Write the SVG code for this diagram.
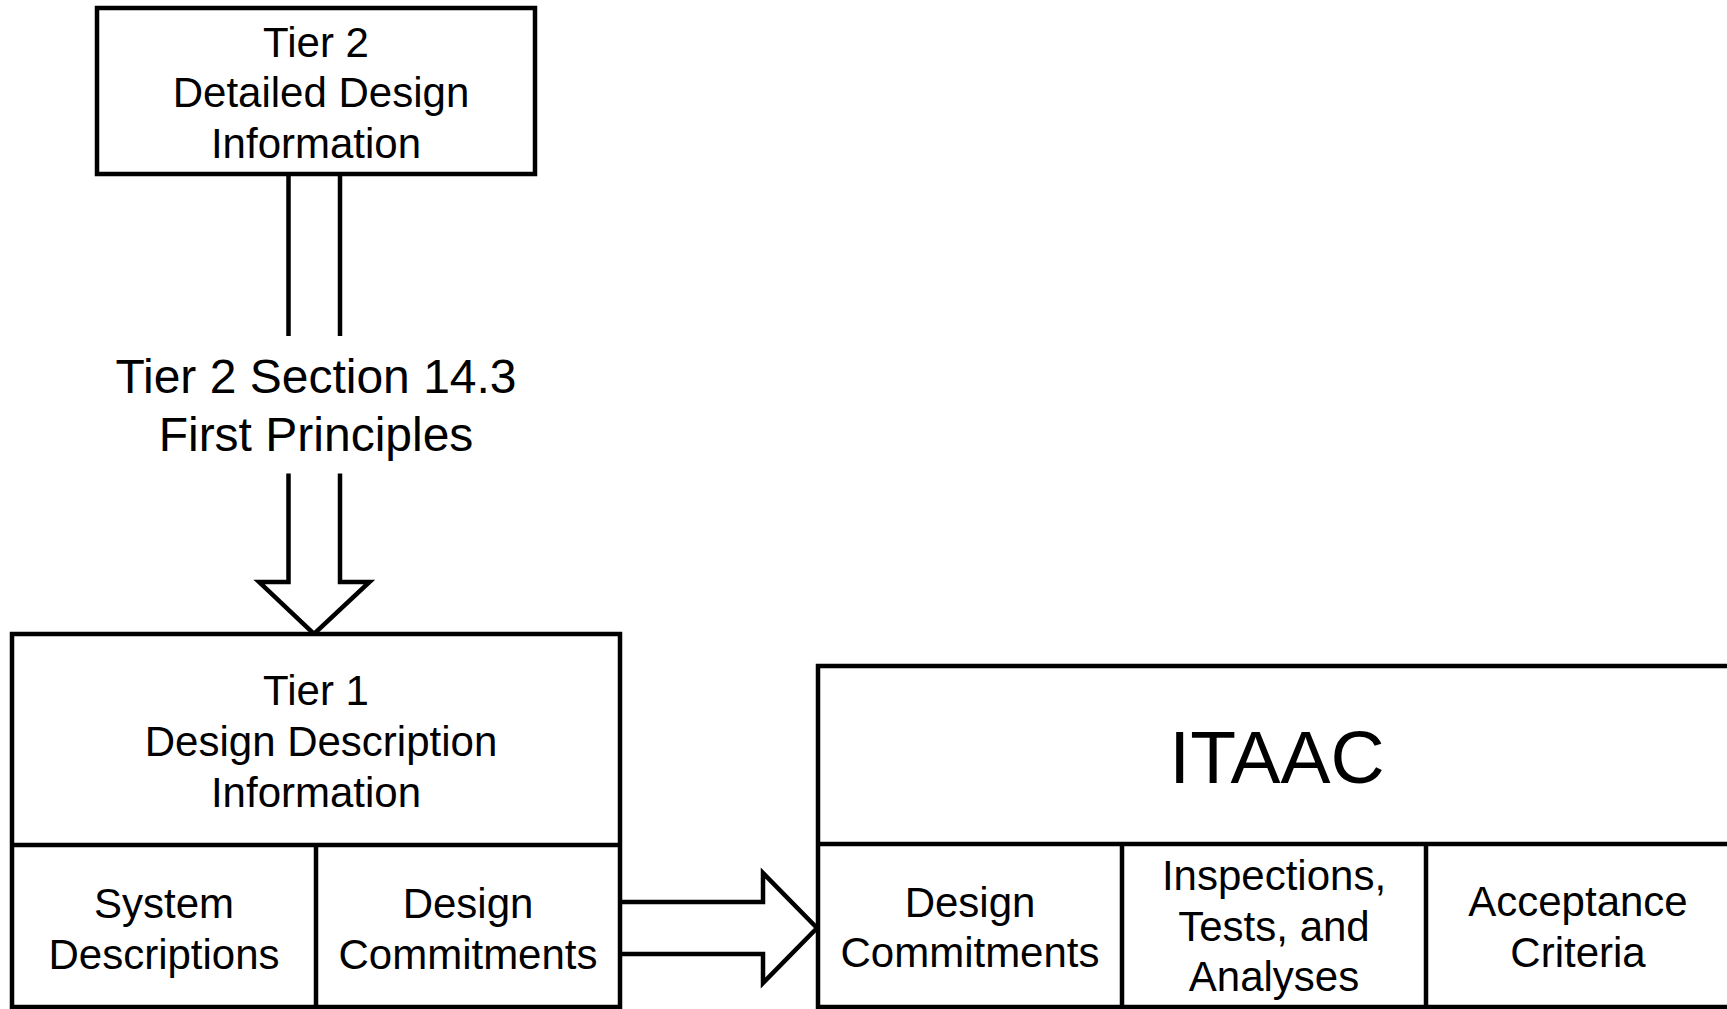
<svg xmlns="http://www.w3.org/2000/svg" width="1727" height="1009" viewBox="0 0 1727 1009">
<style>
.box{fill:#fff;stroke:#000;stroke-width:4.5}
.ln{fill:none;stroke:#000;stroke-width:4.5}
.arr{fill:#fff;stroke:#000;stroke-width:4.5;stroke-linejoin:miter}
text{font-family:"Liberation Sans",Arial,sans-serif;fill:#000;text-anchor:middle}
.t42{font-size:42px}
.t48{font-size:48px}
.t75{font-size:75px}
</style>
<rect width="1727" height="1009" fill="#fff"/>
<g id="connectors">
<path class="ln" d="M288.5 174V336M340 174V336"/>
<path class="arr" d="M288.5 473.5V582H259L314 634L369.5 582H340V473.5"/>
<path class="arr" d="M620 902H763V873L817 928L763 983V954H620"/>
</g>
<g id="tier2">
<rect class="box" x="97" y="8" width="438" height="166"/>
<text class="t42" x="316" y="57">Tier 2</text>
<text class="t42" x="321" y="107">Detailed Design</text>
<text class="t42" x="316" y="158">Information</text>
</g>
<g id="section143">
<text class="t48" x="316" y="393">Tier 2 Section 14.3</text>
<text class="t48" x="316" y="451">First Principles</text>
</g>
<g id="tier1">
<rect class="box" x="12" y="634" width="608" height="373"/>
<path class="ln" d="M12 845H620M316 845V1007"/>
<text class="t42" x="316" y="705">Tier 1</text>
<text class="t42" x="321" y="756">Design Description</text>
<text class="t42" x="316" y="807">Information</text>
<text class="t42" x="164" y="918">System</text>
<text class="t42" x="164" y="969">Descriptions</text>
<text class="t42" x="468" y="918">Design</text>
<text class="t42" x="468" y="969">Commitments</text>
</g>
<g id="itaac">
<rect class="box" x="818" y="666" width="912" height="341"/>
<path class="ln" d="M818 844H1730M1122 844V1007M1426 844V1007"/>
<text class="t75" x="1277" y="783">ITAAC</text>
<text class="t42" x="970" y="917">Design</text>
<text class="t42" x="970" y="967">Commitments</text>
<text class="t42" x="1274" y="890">Inspections,</text>
<text class="t42" x="1274" y="941">Tests, and</text>
<text class="t42" x="1274" y="991">Analyses</text>
<text class="t42" x="1578" y="916">Acceptance</text>
<text class="t42" x="1578" y="967">Criteria</text>
</g>
</svg>
